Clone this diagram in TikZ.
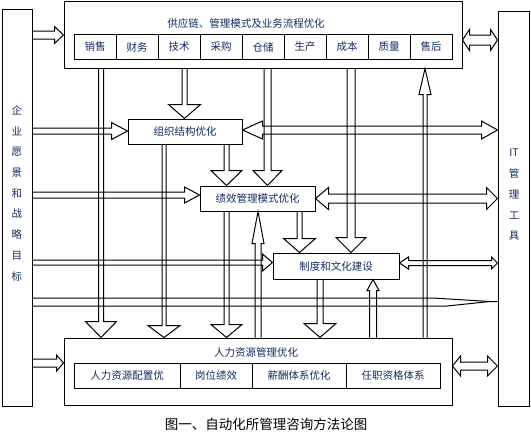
\documentclass[tikz,border=0pt]{standalone}
\usepackage{fontspec}
\newfontfamily\cjk{Noto Sans CJK SC}
\usetikzlibrary{calc}
\definecolor{navy}{RGB}{20,45,100}
\tikzset{
  blk/.style={draw=black,line width=1pt,line join=miter},
  boxn/.style={draw=black,line width=1pt,inner sep=0pt,fill=white},
  lbl/.style={text=navy,font=\cjk\fontsize{10.5}{12}\selectfont,inner sep=0pt},
  cellbox/.style={boxn,minimum height=25pt,text=navy,font=\cjk\fontsize{10.5}{12}\selectfont}
}
\newcommand\myR[6]{% from, to, y, s, h, L
  \draw[blk] ($(#1 |- 0,#3)+(0,-#4)$) -- ($(#2 |- 0,#3)+(-#6,-#4)$) -- ($(#2 |- 0,#3)+(-#6,-#5)$) -- (#2 |- 0,#3) -- ($(#2 |- 0,#3)+(-#6,#5)$) -- ($(#2 |- 0,#3)+(-#6,#4)$) -- ($(#1 |- 0,#3)+(0,#4)$);}
\newcommand\myLR[7]{% left, right, y, s, h, L1, L2
  \draw[blk] (#1 |- 0,#3) -- ($(#1 |- 0,#3)+(#6,-#5)$) -- ($(#1 |- 0,#3)+(#6,-#4)$) -- ($(#2 |- 0,#3)+(-#7,-#4)$) -- ($(#2 |- 0,#3)+(-#7,-#5)$) -- (#2 |- 0,#3) -- ($(#2 |- 0,#3)+(-#7,#5)$) -- ($(#2 |- 0,#3)+(-#7,#4)$) -- ($(#1 |- 0,#3)+(#6,#4)$) -- ($(#1 |- 0,#3)+(#6,#5)$) -- cycle;}
\newcommand\myD[6]{% from, to, x, s, h, L
  \draw[blk] ($(#3,0 |- #1)+(-#4,0)$) -- ($(#3,0 |- #2)+(-#4,-#6)$) -- ($(#3,0 |- #2)+(-#5,-#6)$) -- (#3,0 |- #2) -- ($(#3,0 |- #2)+(#5,-#6)$) -- ($(#3,0 |- #2)+(#4,-#6)$) -- ($(#3,0 |- #1)+(#4,0)$);}
\newcommand\myU[6]{% from, to, x, s, h, L
  \draw[blk] ($(#3,0 |- #1)+(-#4,0)$) -- ($(#3,0 |- #2)+(-#4,#6)$) -- ($(#3,0 |- #2)+(-#5,#6)$) -- (#3,0 |- #2) -- ($(#3,0 |- #2)+(#5,#6)$) -- ($(#3,0 |- #2)+(#4,#6)$) -- ($(#3,0 |- #1)+(#4,0)$);}
\begin{document}
\begin{tikzpicture}[x=1pt,y=-1pt]
\useasboundingbox[fill=white] (0,0) rectangle (531,432);
% side boxes
\node[boxn,minimum width=30pt,minimum height=397pt] (vision) at (17,207.5) {};
\foreach \c [count=\i from 0] in {企,业,愿,景,和,战,略,目,标}
  \node[lbl] (v\i) at (17,{110+20.8*\i}) {\c};
\node[boxn,minimum width=31pt,minimum height=395pt] (it) at (513.5,208.5) {};
\foreach \c [count=\i from 0] in {IT,管,理,工,具}
  \node[lbl] (t\i) at (514,{153+20.8*\i}) {\c};
% top box
\node[boxn,minimum width=398pt,minimum height=67pt] (chain) at (263,34.5) {};
\node[lbl] (chaintitle) at (246,24) {供应链、管理模式及业务流程优化};
\foreach \c [count=\i from 0] in {销售,财务,技术,采购,仓储,生产,成本,质量,售后}
  \node[cellbox,minimum width=42pt] (c\i) at ({95+42*\i},47) {\raisebox{-1.5pt}{\c}};
% middle boxes
\node[boxn,minimum width=114pt,minimum height=25pt,lbl,text=navy] (org) at (185,131.5) {组织结构优化};
\node[boxn,minimum width=115pt,minimum height=25pt,lbl,text=navy] (perf) at (257.5,198.5) {\raisebox{-2pt}{绩效管理模式优化}};
\node[boxn,minimum width=126pt,minimum height=26pt,lbl,text=navy] (cult) at (336,266) {制度和文化建设};
% bottom box
\node[boxn,minimum width=388pt,minimum height=67pt] (hr) at (258,371.5) {};
\node[lbl] (hrtitle) at (256,353) {人力资源管理优化};
\node[cellbox,minimum width=106pt] (h1) at (127,375.5) {\raisebox{-1.5pt}{人力资源配置优}};
\node[cellbox,minimum width=72pt] (h2) at (216,375.5) {\raisebox{-1.5pt}{岗位绩效}};
\node[cellbox,minimum width=94pt] (h3) at (299,375.5) {\raisebox{-1.5pt}{薪酬体系优化}};
\node[cellbox,minimum width=94pt] (h4) at (393,375.5) {\raisebox{-1.5pt}{任职资格体系}};
% caption
\node[inner sep=0pt,font=\cjk\fontsize{13.5}{15}\selectfont] (cap) at (266,424) {图一、自动化所管理咨询方法论图};
% arrows from the vision box
\myR{vision.east}{chain.west}{35}{4}{8.5}{9}
\myR{vision.east}{org.west}{131}{3}{8.5}{16}
\myR{vision.east}{perf.west}{195}{3}{8}{15}
\myR{vision.east}{cult.west}{262.5}{2.5}{8.5}{10}
\myR{vision.east}{hr.west}{363}{4}{8}{7}
% long tapering band
\coordinate (taper) at (490,301.5);
\draw[blk] (vision.east |- 0,298) -- (433,298) -- (taper) -- (it.west |- taper);
\draw[blk] (vision.east |- 0,306) -- (447,306) -- (taper);
% double arrows to IT box
\myLR{chain.east}{it.west}{40}{5}{10.5}{7}{7}
\myLR{org.east}{it.west}{130}{4}{9}{20}{16}
\myLR{perf.east}{it.west}{198.5}{4.5}{11}{13}{11}
\myLR{cult.east}{it.west}{263}{2.5}{6}{9}{6}
\myLR{hr.east}{it.west}{366}{4}{10}{8}{10}
% downward arrows
\myD{chain.south}{org.north}{184.5}{2.5}{16}{14}
\myD{org.south}{perf.north}{226.5}{2.5}{15.5}{15}
\myD{chain.south}{perf.north}{267.5}{3.5}{14.5}{15}
\myD{perf.south}{cult.north}{299.5}{2.5}{16}{14}
\myD{chain.south}{cult.north}{351}{4}{15}{15}
\myD{chain.south}{hr.north}{101}{2.5}{15.5}{16}
\myD{org.south}{hr.north}{164}{2}{16}{12}
\myD{perf.south}{hr.north}{226.5}{2.5}{15.5}{13}
\myD{cult.south}{hr.north}{320}{3}{16}{14}
% upward arrows
\myU{hr.north}{perf.south}{258}{3}{6}{32}
\myU{hr.north}{cult.south}{373}{3.5}{6}{11}
\myU{hr.north}{chain.south}{425}{2}{6}{26}
\end{tikzpicture}
\end{document}
